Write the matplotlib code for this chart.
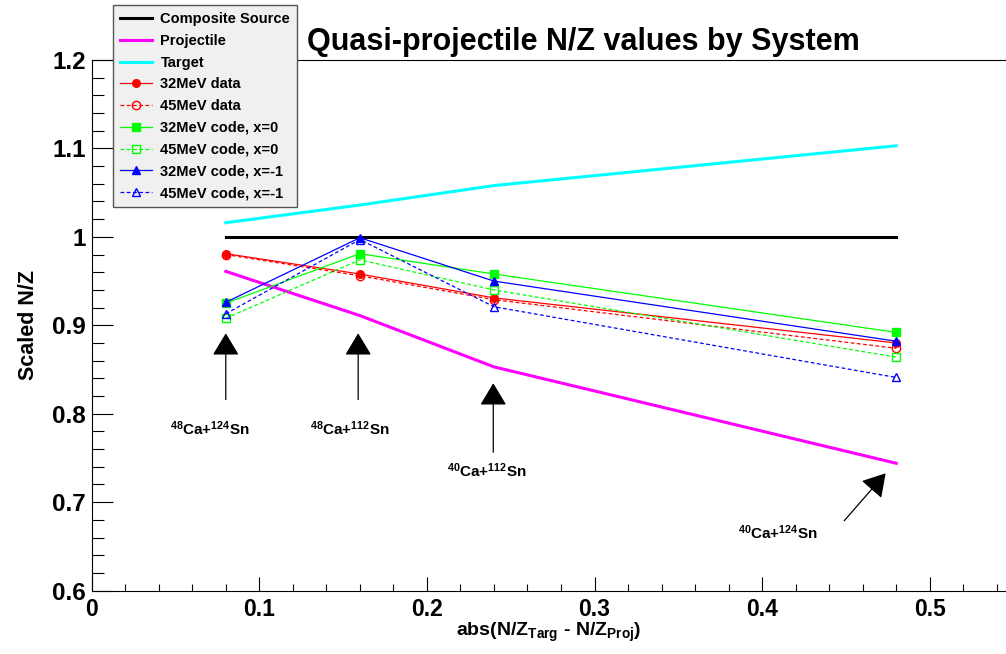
import numpy as np
import matplotlib
matplotlib.use('Agg')
import matplotlib.pyplot as plt
from matplotlib.ticker import MultipleLocator, FuncFormatter

plt.rcParams['font.family'] = ['Liberation Sans', 'DejaVu Sans']
plt.rcParams['font.weight'] = 'bold'
plt.rcParams['mathtext.fontset'] = 'custom'
plt.rcParams['mathtext.rm'] = 'Liberation Sans:bold'
plt.rcParams['mathtext.bf'] = 'Liberation Sans:bold'
plt.rcParams['mathtext.default'] = 'bf'

#data
x_sys = [0.08, 0.16, 0.24, 0.48]
composite = [1.0, 1.0, 1.0, 1.0]
projectile = [0.961, 0.911, 0.853, 0.744]
target = [1.016, 1.036, 1.058, 1.103]
data_32 = [0.981, 0.958, 0.931, 0.880]
data_45 = [0.980, 0.956, 0.929, 0.874]
code32_x0 = [0.925, 0.981, 0.958, 0.892]
code45_x0 = [0.908, 0.974, 0.940, 0.864]
code32_xm1 = [0.926, 0.999, 0.950, 0.882]
code45_xm1 = [0.913, 0.997, 0.921, 0.841]

#system labels and arrows
sys_labels = [r'$^{48}$Ca+$^{124}$Sn', r'$^{48}$Ca+$^{112}$Sn',
              r'$^{40}$Ca+$^{112}$Sn', r'$^{40}$Ca+$^{124}$Sn']
arrow_tip = [(0.080, 0.891), (0.159, 0.891), (0.2396, 0.8345), (0.4737, 0.7326)]
arrow_tail = [(0.080, 0.816), (0.159, 0.816), (0.2396, 0.7564), (0.449, 0.679)]
label_pos = [(0.0706, 0.783), (0.154, 0.783), (0.2357, 0.7357), (0.4095, 0.6658)]

W, H = 1006, 654
fig = plt.figure(figsize=(W / 100, H / 100), dpi=100)
ax = fig.add_axes([91.7 / W, (H - 590.6) / H, 1 - 91.7 / W, (590.6 - 60) / H])

ax.plot(x_sys, composite, color='black', lw=2.2, label='Composite Source')
ax.plot(x_sys, projectile, color='#ff00ff', lw=2.2, label='Projectile')
ax.plot(x_sys, target, color='#00ffff', lw=2.2, label='Target')

dash = (0, (3, 2))
ms = 5.5
ax.plot(x_sys, data_32, color='red', lw=0.9, marker='o', ms=ms, label='32MeV data')
ax.plot(x_sys, data_45, color='red', lw=0.9, ls=dash, marker='o', ms=ms + 0.5,
        mfc='none', label='45MeV data')
ax.plot(x_sys, code32_x0, color='#00ff00', lw=0.9, marker='s', ms=ms,
        label='32MeV code, x=0')
ax.plot(x_sys, code45_x0, color='#00ff00', lw=0.9, ls=dash, marker='s', ms=ms,
        mfc='none', label='45MeV code, x=0')
ax.plot(x_sys, code32_xm1, color='blue', lw=0.9, marker='^', ms=ms,
        label='32MeV code, x=-1')
ax.plot(x_sys, code45_xm1, color='blue', lw=0.9, ls=dash, marker='^', ms=ms + 0.5,
        mfc='none', label='45MeV code, x=-1')

for tip, tail, (lx, ly), lab in zip(arrow_tip, arrow_tail, label_pos, sys_labels):
    ax.annotate('', xy=tip, xytext=tail,
                arrowprops=dict(arrowstyle='-|>,head_length=0.7,head_width=0.42',
                                mutation_scale=20, color='black', lw=0.9,
                                shrinkA=0, shrinkB=0))
    ax.text(lx, ly, lab, ha='center', va='center', fontsize=11, fontweight='bold')

ax.set_xlim(0, (W - 91.7) / 1676)
ax.set_ylim(0.6, 1.2)
ax.xaxis.set_major_locator(MultipleLocator(0.1))
ax.xaxis.set_minor_locator(MultipleLocator(0.02))
ax.yaxis.set_major_locator(MultipleLocator(0.1))
ax.yaxis.set_minor_locator(MultipleLocator(0.02))
fmt = FuncFormatter(lambda v, p: '%g' % round(v, 3))
ax.xaxis.set_major_formatter(fmt)
ax.yaxis.set_major_formatter(fmt)
ax.tick_params(axis='x', which='major', direction='in', length=10, width=0.8,
               labelsize=16.5, pad=5)
ax.tick_params(axis='x', which='minor', direction='in', length=5, width=0.8)
ax.tick_params(axis='y', which='major', direction='in', length=15, width=0.8,
               labelsize=17.5, pad=4)
ax.tick_params(axis='y', which='minor', direction='in', length=8.5, width=0.8)
for lab in ax.get_xticklabels() + ax.get_yticklabels():
    lab.set_fontweight('bold')
ax.spines['right'].set_visible(False)
for s in ['left', 'bottom', 'top']:
    ax.spines[s].set_linewidth(0.8)

ax.set_xlabel(r'abs(N/Z$_{Targ}$ - N/Z$_{Proj}$)', fontsize=14, fontweight='bold',
              labelpad=0)
ax.set_ylabel('Scaled N/Z', fontsize=15.5, fontweight='bold', labelpad=10)

fig.text(583 / W, 1 - 42 / H, 'Quasi-projectile N/Z values by System',
         ha='center', va='center', fontsize=22, fontweight='bold')

leg = ax.legend(loc='upper left', bbox_to_anchor=(113 / W, 1 - 5 / H),
                bbox_transform=fig.transFigure, fontsize=10.5, frameon=True,
                fancybox=False, framealpha=1, facecolor='#f0f0f0',
                edgecolor='#555555', handlelength=2.2, handletextpad=0.55,
                labelspacing=0.53, borderpad=0.5, borderaxespad=0)
leg.get_frame().set_linewidth(1.0)
for t in leg.get_texts():
    t.set_fontweight('bold')

fig.savefig('out.png', dpi=100)
